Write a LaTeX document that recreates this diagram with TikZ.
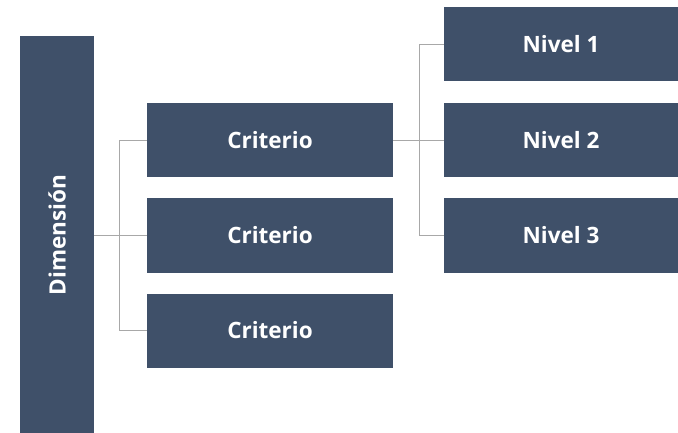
\documentclass[tikz,border=0pt]{standalone}
\usepackage{fontspec}
\setmainfont{Open Sans}
\definecolor{boxblue}{HTML}{3F5069}
\definecolor{conngray}{HTML}{A8A8A8}
\begin{document}
\begin{tikzpicture}[x=1pt,y=-1pt,
  box/.style={fill=boxblue,draw=none,text=white,font=\bfseries\fontsize{22.5}{26}\selectfont,inner sep=0pt,anchor=center},
  crit/.style={box,minimum width=246pt,minimum height=74pt},
  niv/.style={box,minimum width=234pt,minimum height=74pt},
  conn/.style={draw=conngray,line width=0.9pt}]
\useasboundingbox[fill=white] (0,0) rectangle (678,433);
\node[box,minimum width=74pt,minimum height=398pt] (dim) at (57,235) {\rotatebox{90}{Dimensión}};
\node[crit] (c1) at (270,140) {Criterio};
\node[crit] (c2) at (270,235.5) {Criterio};
\node[crit] (c3) at (270,330.5) {Criterio};
\node[niv] (n1) at (561,44.5) {Nivel 1};
\node[niv] (n2) at (561,140) {Nivel 2};
\node[niv] (n3) at (561,235.5) {Nivel 3};
\draw[conn] (dim.east |- c2.west) -- (c2.west);
\draw[conn] (c1.west) -- ++(-27,0) |- (c3.west);
\draw[conn] (c1.east) -- (n2.west);
\draw[conn] (n1.west) -- ++(-24,0) |- (n3.west);
\end{tikzpicture}
\end{document}
